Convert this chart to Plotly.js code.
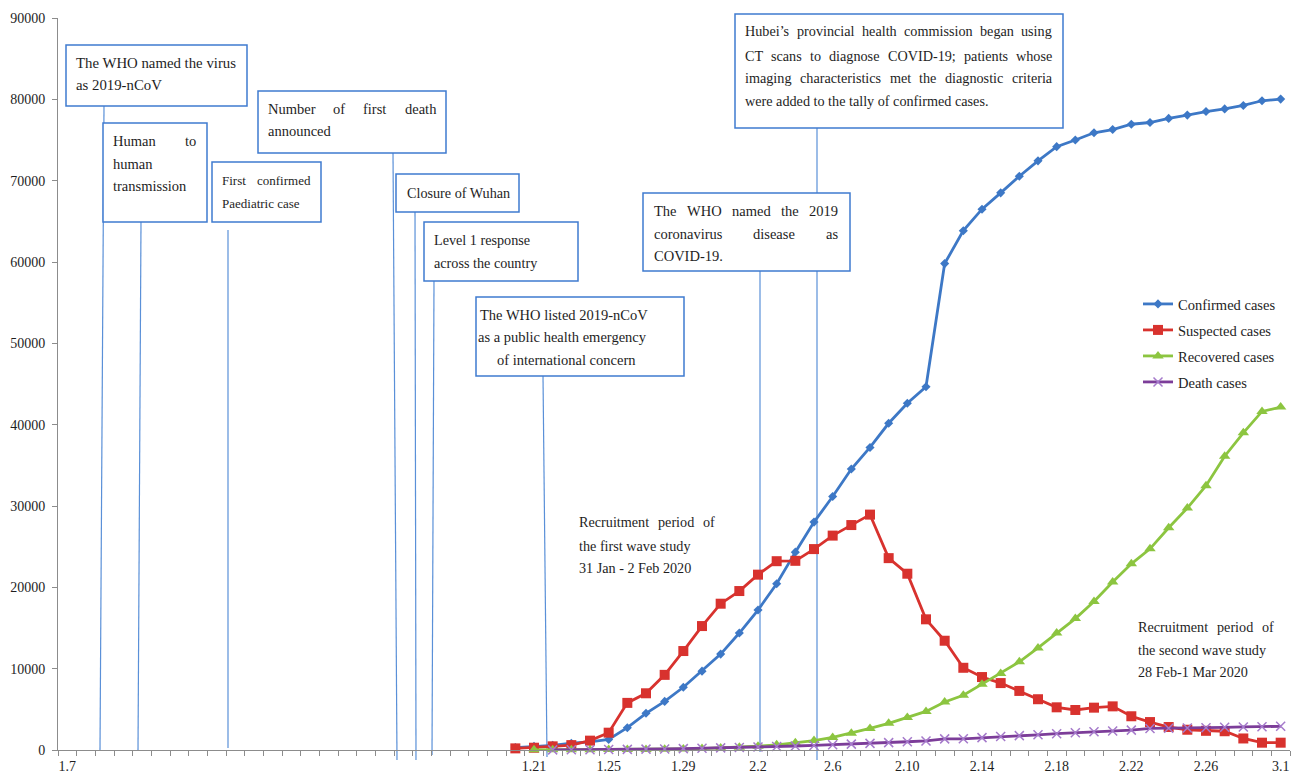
<!DOCTYPE html>
<html><head><meta charset="utf-8">
<script src="https://cdn.plot.ly/plotly-3.0.1.min.js"></script>
<style>html,body{margin:0;padding:0;background:#fff}#chart{width:1294px;height:776px}</style>
</head><body><div id="chart"></div>
<script>
// ---------- data ----------
const dates = ['1.20','1.21','1.22','1.23','1.24','1.25','1.26','1.27','1.28','1.29','1.30','1.31',
  '2.1','2.2','2.3','2.4','2.5','2.6','2.7','2.8','2.9','2.10','2.11','2.12','2.13','2.14','2.15','2.16','2.17','2.18','2.19','2.20','2.21','2.22','2.23','2.24','2.25','2.26','2.27','2.28','2.29',
  '3.1'];
const confirmed = [291,440,571,830,1000,1300,2744,4515,5974,7711,9692,11791,
  14380,17205,20438,24324,28018,31161,34546,37198,40171,42638,44653,59804,63851,66492,68500,70548,72436,74185,75002,75891,76288,76936,77150,77658,78064,78497,78824,79251,79824,
  80026];
const suspected = [200,280,450,600,1150,2130,5794,6973,9239,12167,15238,17988,
  19544,21558,23214,23260,24702,26359,27657,28942,23589,21675,16067,13435,10109,8969,8228,7264,6242,5248,4922,5206,5365,4148,3434,2824,2491,2358,2308,1418,900,
  900];
const recovered = [null,25,28,34,38,49,51,60,103,124,171,243,
  328,475,632,892,1153,1540,2050,2649,3281,3996,4740,5911,6723,8096,9419,10844,12552,14376,16155,18264,20659,22888,24734,27323,29745,32495,36117,39002,41625,
  42162];
const deaths = [null,null,17,25,41,56,80,106,132,170,213,259,
  304,361,425,490,563,636,722,811,908,1016,1113,1367,1380,1523,1665,1770,1868,2004,2118,2236,2345,2442,2650,2663,2715,2744,2788,2835,2870,
  2912];
const seriesNames = ['Confirmed cases','Suspected cases','Recovered cases','Death cases'];
const tickLabels = ['1.7','1.21','1.25','1.29','2.2','2.6','2.10','2.14','2.18','2.22','2.26','3.1'];
const axisStartLabel = '1.7';
const leadSlots = 24;  // category slots on the axis before the first dated value
const yTicks = [0,10000,20000,30000,40000,50000,60000,70000,80000,90000];

// ---------- category positions ----------
const categories = [axisStartLabel].concat(Array(leadSlots - 1).fill('')).concat(dates);
const xs = dates.map(d => categories.indexOf(d));
const tickvals = tickLabels.map(t => categories.indexOf(t));

// ---------- layout helpers (pixel -> paper) ----------
const PL = 58, PR = 1290, PT = 18, PB = 750;
const px = x => (x - PL) / (PR - PL);
const py = y => (PB - y) / (PB - PT);
const FONT = 'Liberation Serif';
const TXT = '#1e1e1e';
const BOXC = '#3f7bd0';
const LINEC = '#5a90d8';

const cv = document.createElement('canvas').getContext('2d');
function measure(t, size){ cv.font = size + "px '" + FONT + "'"; return cv.measureText(t).width; }

const annotations = [];
const shapes = [];
function addLine(str, x, y, size, jw){
  const base = {xref:'paper', yref:'paper', xanchor:'left', yanchor:'middle', showarrow:false,
                borderpad:0, borderwidth:0, font:{family:FONT, size:size, color:TXT}};
  const words = str.split(' ');
  if (!jw || words.length < 2){
    annotations.push(Object.assign({}, base, {x:px(x), y:py(y), text:str}));
    return;
  }
  const widths = words.map(w => measure(w, size));
  const gap = (jw - widths.reduce((a,b)=>a+b,0)) / (words.length - 1);
  let cx = x;
  words.forEach((w,i) => {
    annotations.push(Object.assign({}, base, {x:px(cx), y:py(y), text:w}));
    cx += widths[i] + gap;
  });
}

const boxes = [
  {r:[66,45,247,106], tx:76, ty:[63,85], size:14.8, lines:['The WHO named the virus','as 2019-nCoV']},
  {r:[103,123,207,222], tx:113, ty:[141,164,186], size:14.5, lines:['Human to','human','transmission'], just:[83]},
  {r:[212,162,321,222], tx:222, ty:[180,203], size:13, lines:['First confirmed','Paediatric case'], just:[88]},
  {r:[258,91,446,153], tx:268, ty:[109,131], size:14.5, lines:['Number of first death','announced'], just:[168]},
  {r:[396,174,519,212], tx:407, ty:[193], size:14.2, lines:['Closure of Wuhan']},
  {r:[424,222,578,281], tx:434, ty:[240,263], size:14.2, lines:['Level 1 response','across the country']},
  {r:[476,297,684,376], tx:[480,478,497], ty:[315,337,360], size:14.5, lines:['The WHO listed 2019-nCoV','as a public health emergency','of international concern']},
  {r:[643,193,850,271], tx:654, ty:[211,234,256], size:14.5, lines:['The WHO named the 2019','coronavirus disease as','COVID-19.'], just:[184,184]},
  {r:[735,14,1063,128], tx:745, ty:[31,56,78,101], size:14.2, lines:["Hubei\u2019s provincial health commission began using",'CT scans to diagnose COVID-19; patients whose','imaging characteristics met the diagnostic criteria','were added to the tally of confirmed cases.'], just:[307,307,307]},
  {tx:579, ty:[522,546,568], size:14.2, lines:['Recruitment period of','the first wave study','31 Jan - 2 Feb 2020'], just:[136]},
  {tx:1138, ty:[627,650,672], size:14.2, lines:['Recruitment period of','the second wave study','28 Feb-1 Mar 2020'], just:[136]}
];
const connectors = [
  [104,106,100,750],[141,222,138,750],[228,230,228,748],[393,153,397,760],
  [415,212,416,760],[434,281,432,755],[543,376,547,757],[760,271,760,752],[817,128,817,760]
];
connectors.forEach(c => shapes.push({type:'line', xref:'paper', yref:'paper', layer:'below',
  x0:px(c[0]), y0:py(c[1]), x1:px(c[2]), y1:py(c[3]), line:{color:LINEC, width:1.2}}));
boxes.forEach(b => {
  if (b.r) shapes.push({type:'rect', xref:'paper', yref:'paper', layer:'above',
    x0:px(b.r[0]), y0:py(b.r[3]), x1:px(b.r[2]), y1:py(b.r[1]),
    fillcolor:'#ffffff', line:{color:BOXC, width:1.5}});
  b.lines.forEach((ln,i) => {
    const x = Array.isArray(b.tx) ? b.tx[i] : b.tx;
    const jw = b.just && b.just[i];
    addLine(ln, x, b.ty[i], b.size, jw);
  });
});

// ---------- traces ----------
const styles = [
  {color:'#3d78c6', symbol:'diamond', size:7, mcolor:'#3d78c6'},
  {color:'#d8322e', symbol:'square', size:10, mcolor:'#d8322e'},
  {color:'#8cc540', symbol:'triangle-up', size:10, mcolor:'#8cc540'},
  {color:'#7c3d99', symbol:'x-thin-open', size:9, mcolor:'#a57acb'}
];
const values = [confirmed, suspected, recovered, deaths];
const legendIds = ['legend','legend2','legend3','legend4'];
const traces = values.map((v,k) => ({
  type:'scatter', mode:'lines+markers', name:seriesNames[k], x:xs, y:v,
  legend: legendIds[k],
  line:{color:styles[k].color, width:2.8},
  marker:{symbol:styles[k].symbol, size:styles[k].size, color:styles[k].mcolor,
          line:{color:styles[k].mcolor, width: k===3 ? 1.5 : 0}},
  cliponaxis:false
}));

const legendRows = [304,330,356,382];
const layout = {
  width:1294, height:776,
  margin:{l:PL, r:1294-PR, t:PT, b:776-PB},
  paper_bgcolor:'#ffffff', plot_bgcolor:'#ffffff',
  font:{family:FONT, size:14, color:TXT},
  showlegend:true,
  xaxis:{range:[-0.5, categories.length-0.5], tickmode:'array', tickvals:tickvals, ticktext:tickLabels,
    ticks:'', showline:true, linecolor:'#8c8c8c', linewidth:1, showgrid:false, zeroline:false,
    ticklabelstandoff:3, tickfont:{family:FONT, size:14, color:TXT},
    minor:{tick0:-0.5, dtick:1, ticks:'outside', ticklen:5, tickcolor:'#8c8c8c', tickwidth:1, showgrid:false}},
  yaxis:{range:[0,90000], tickmode:'array', tickvals:yTicks, tickformat:'d', ticks:'outside', ticklen:5,
    tickcolor:'#8c8c8c', showline:true, linecolor:'#8c8c8c', linewidth:1, showgrid:false, zeroline:false,
    ticklabelstandoff:4, tickfont:{family:FONT, size:14, color:TXT}},
  shapes:shapes,
  annotations:annotations
};
legendIds.forEach((id,k) => {
  layout[id] = {x:px(1138), y:py(legendRows[k]), xanchor:'left', yanchor:'middle',
    bgcolor:'rgba(0,0,0,0)', borderwidth:0, font:{family:FONT, size:14.5, color:TXT}};
});

Plotly.newPlot('chart', traces, layout, {displayModeBar:false, staticPlot:true});
</script>
</body></html>
